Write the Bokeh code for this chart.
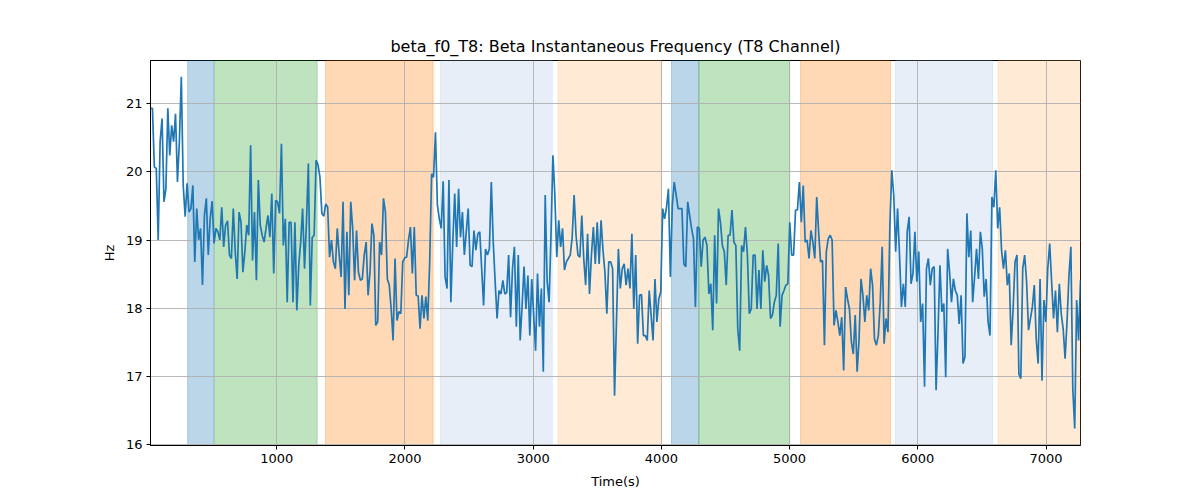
import numpy as np
from bokeh.plotting import figure
from bokeh.models import BoxAnnotation, ColumnDataSource, FixedTicker
from bokeh.embed import file_html
from bokeh.resources import INLINE

# --- data -------------------------------------------------------------
t_start = 15.0
t_end = 7269.0

hz_part1 = [20.93, 20.93, 20.07, 20.05, 19.0, 20.44, 20.78, 19.56, 19.75, 20.93,
            20.24, 20.68, 20.44, 20.85, 19.85, 20.44, 21.39, 19.80, 19.34, 19.83,
            19.41, 19.46, 19.80, 18.68, 19.46, 19.0, 19.17, 18.34, 19.36, 19.61,
            18.78, 19.31, 19.57, 18.95, 19.17, 19.12, 19.0, 19.48, 18.90, 19.22,
            19.28, 18.78, 18.73, 19.46, 18.83, 18.43, 19.41, 19.26, 18.53, 18.83,
            19.22, 19.07, 20.39, 18.70, 19.41, 18.41, 19.88, 19.22, 19.07, 18.97,
            19.17, 19.36, 19.04, 19.68, 18.51, 19.58, 19.56, 19.39, 20.41, 18.92,
            19.31, 18.09, 19.26, 19.26, 18.09, 19.26, 17.97, 18.63, 18.97, 19.46,
            18.58, 19.26, 20.12, 18.04, 19.04, 19.07, 20.17, 20.10, 19.92, 19.39,
            19.35, 19.53, 19.48, 18.75, 19.0, 18.68, 18.58, 19.17, 18.78, 18.46,
            19.56, 17.99, 19.12, 18.19, 19.56, 19.17, 18.41, 19.14, 18.53, 18.41,
            18.43, 18.78, 18.97, 18.19, 18.53, 19.24, 19.07, 17.75, 17.80]

hz_part2 = [18.97, 18.78, 19.61, 19.41, 18.43, 18.34, 17.99, 17.53, 18.73, 17.82,
            17.95, 17.92, 18.68, 18.74, 18.75, 19.0, 19.19, 18.51, 19.19, 18.19,
            18.18, 17.70, 18.19, 17.85, 18.17, 17.82, 18.68, 19.97, 19.92, 20.58,
            19.51, 19.31, 19.17, 19.86, 18.46, 18.29, 19.88, 18.09, 18.97, 19.68,
            18.90, 19.75, 19.04, 19.41, 18.78, 19.12, 19.46, 18.63, 18.61, 19.14,
            18.85, 19.09, 19.12, 18.58, 18.04, 18.87, 18.78, 18.87, 19.85, 18.97,
            18.39, 17.85, 18.26, 18.21, 18.41, 18.21, 18.23, 18.78, 17.87, 18.58,
            18.90, 17.73, 18.78, 17.53, 18.04, 18.61, 17.99, 18.48, 17.60, 18.43,
            17.90, 17.38, 18.51, 17.73, 18.29, 17.07, 19.66, 18.39, 18.09, 19.07,
            20.24, 19.66, 18.75, 19.29, 18.90, 19.17, 18.56, 18.68, 18.73, 18.78,
            19.04, 19.66, 19.07, 18.78, 18.75, 19.36, 18.73, 18.34, 19.09, 18.21,
            18.78, 19.19, 18.65, 19.26, 18.65, 19.29, 18.85, 18.53, 17.92, 18.68]

hz_part3 = [18.68, 18.58, 16.72, 17.80, 18.87, 18.29, 18.58, 18.65, 18.34, 18.58,
            18.29, 19.09, 17.99, 18.78, 17.48, 18.19, 18.20, 17.60, 17.60, 17.53,
            18.26, 17.90, 17.53, 18.43, 17.80, 18.14, 18.24, 19.46, 19.31, 19.48,
            19.75, 18.46, 19.51, 19.85, 19.66, 19.46, 19.46, 19.46, 18.65, 18.61,
            19.56, 19.36, 19.17, 19.02, 18.02, 19.19, 19.17, 18.61, 19.0, 19.04,
            18.92, 18.21, 18.36, 17.68, 19.07, 18.07, 19.46, 19.26, 18.92, 18.83,
            18.34, 19.07, 19.07, 19.44, 18.97, 18.92, 17.70, 17.38, 18.92, 18.83,
            19.19, 18.78, 17.92, 17.99, 18.78, 18.78, 17.99, 18.56, 17.99, 18.85,
            18.39, 18.63, 18.48, 17.85, 17.90, 18.09, 18.19, 18.95, 17.73, 18.19,
            18.26, 18.34, 18.36, 19.26, 18.78, 18.78, 19.44, 19.44, 19.85, 19.26,
            19.80, 18.97, 19.0, 18.73, 19.14, 18.97, 18.73, 19.63, 19.12, 18.68,
            18.70, 17.46, 18.83, 19.02, 19.07, 19.0, 17.75, 17.97, 17.80, 17.60]

hz_part4 = [17.87, 17.09, 18.31, 18.14, 17.99, 17.51, 17.33, 17.90, 17.07, 17.55,
            18.43, 18.19, 17.80, 18.19, 17.97, 18.58, 18.34, 17.55, 17.46, 17.60,
            18.09, 18.90, 17.48, 17.85, 17.65, 19.22, 20.02, 19.66, 18.83, 19.46,
            18.78, 18.02, 18.36, 18.02, 19.12, 19.34, 18.36, 18.51, 19.12, 18.39,
            18.83, 17.80, 18.07, 16.85, 18.58, 18.73, 18.34, 18.58, 18.61, 16.80,
            17.65, 18.63, 17.95, 18.07, 16.99, 18.87, 18.53, 18.09, 18.43, 18.26,
            18.19, 17.77, 18.19, 17.19, 17.29, 19.39, 18.75, 19.14, 18.09, 18.46,
            18.87, 18.43, 19.12, 18.87, 18.17, 18.43, 17.80, 17.60, 19.63, 19.48,
            20.02, 19.17, 19.48, 18.85, 18.58, 18.85, 18.34, 18.51, 17.46, 17.99,
            18.68, 18.78, 17.04, 16.97, 18.58, 18.78, 18.39, 17.68, 17.85, 18.02,
            18.34, 17.55, 17.19, 18.43, 16.94, 18.12, 17.80, 18.58, 18.95, 18.39,
            17.85, 18.26, 17.65, 18.36, 17.92, 17.70, 17.26, 17.80, 18.48, 18.90,
            16.82, 16.24, 18.12, 17.53, 18.41]

hz = hz_part1 + hz_part2 + hz_part3 + hz_part4

span_start = [305, 514, 1380, 2277, 3195, 4079, 4292, 5085, 5826, 6627]
span_end = [508, 1315, 2220, 3149, 3998, 4292, 5001, 5787, 6583, 7300]
span_color = ["#1f77b4", "#2ca02c", "#ff7f0e", "#aec7e8", "#ffbb78",
              "#1f77b4", "#2ca02c", "#ff7f0e", "#aec7e8", "#ffbb78"]

x_ticks = [1000, 2000, 3000, 4000, 5000, 6000, 7000]
y_ticks = [16, 17, 18, 19, 20, 21]

# --- figure -----------------------------------------------------------
t = np.linspace(t_start, t_end, len(hz))
src = ColumnDataSource(dict(t=t, hz=hz))

FONT = "DejaVu Sans"

p = figure(width=1192, height=492, output_backend="svg", toolbar_location=None,
           x_range=(t_start, t_end), y_range=(15.99, 21.63),
           title="beta_f0_T8: Beta Instantaneous Frequency (T8 Channel)",
           min_border_left=150, min_border_right=112,
           min_border_top=60, min_border_bottom=47)

p.title.align = "center"
p.title.text_font = FONT
p.title.text_font_size = "16px"
p.title.text_font_style = "normal"
p.title.text_color = "black"

for s, e, c in zip(span_start, span_end, span_color):
    p.add_layout(BoxAnnotation(left=s, right=e, fill_color=c, fill_alpha=0.3,
                               line_color=c, line_alpha=0.3, line_width=1,
                               level="image"))

p.line("t", "hz", source=src, line_color="#1f77b4", line_width=1.7)

p.xaxis.ticker = FixedTicker(ticks=x_ticks)
p.yaxis.ticker = FixedTicker(ticks=y_ticks)
p.xaxis.axis_label = "Time(s)"
p.yaxis.axis_label = "Hz"

for ax in (p.xaxis, p.yaxis):
    ax.axis_label_text_font = FONT
    ax.axis_label_text_font_size = "13px"
    ax.axis_label_text_font_style = "normal"
    ax.axis_label_text_color = "black"
    ax.major_label_text_font = FONT
    ax.major_label_text_font_size = "13px"
    ax.major_label_text_color = "black"
    ax.axis_line_color = "black"
    ax.major_tick_line_color = "black"
    ax.major_tick_in = 0
    ax.major_tick_out = 4
    ax.minor_tick_line_color = None
    ax.major_label_standoff = 4
p.xaxis.axis_label_standoff = 8
p.yaxis.axis_label_standoff = 6

p.grid.grid_line_color = "#b0b0b0"
p.grid.grid_line_width = 0.9
p.grid.level = "underlay"

p.outline_line_color = "black"
p.outline_line_alpha = 1.0
p.outline_line_width = 1
p.background_fill_color = "white"
p.border_fill_color = "white"

open("out.html", "w").write(file_html(p, INLINE))
